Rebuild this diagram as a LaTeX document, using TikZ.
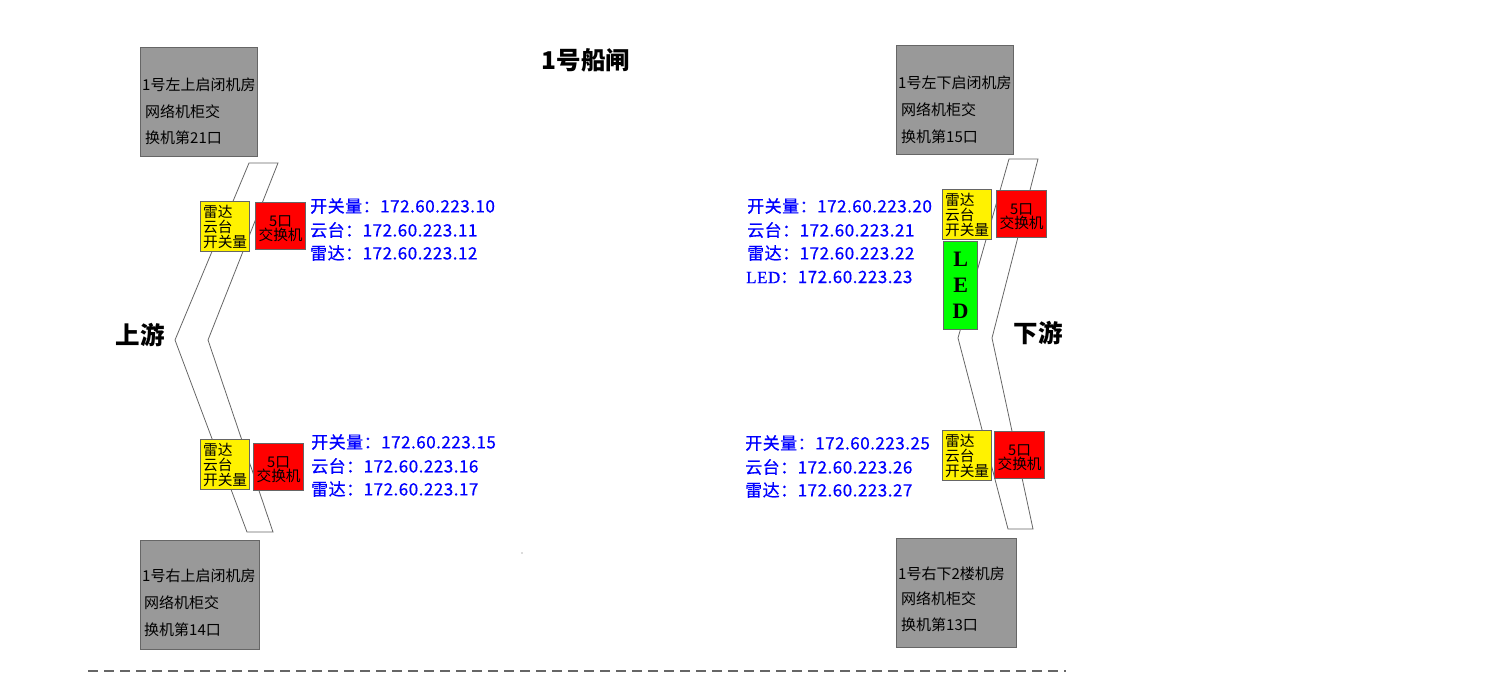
\documentclass[tikz,border=0pt]{standalone}
\usepackage{fontspec}
\setmainfont{Noto Sans CJK SC}
\newfontfamily\serifr{Liberation Serif}
\newfontfamily\ipfont{Noto Sans CJK SC}[LetterSpace=3,FakeBold=0.6]
\newfontfamily\ipserif{Liberation Serif}[LetterSpace=3,FakeBold=0.6]
\definecolor{boxgray}{HTML}{999999}
\definecolor{edgegray}{HTML}{666666}
\definecolor{ipblue}{HTML}{0000FF}
\begin{document}
\begin{tikzpicture}[x=1pt,y=-1pt,
  gateline/.style={draw=edgegray, line width=0.8pt, line join=miter},
  graybox/.style={draw=edgegray, fill=boxgray, line width=1.2pt, inner sep=0pt, anchor=north west},
  graytext/.style={anchor=west, inner sep=0pt, text=black, font=\fontsize{15pt}{17pt}\selectfont},
  ybox/.style={draw=edgegray, fill=yellow, line width=1.2pt, inner sep=0pt, anchor=north west,
    minimum width=49pt, minimum height=50pt, align=left, font=\fontsize{14.7pt}{15pt}\selectfont},
  rbox/.style={draw=edgegray, fill=red, line width=1.2pt, inner sep=0pt, anchor=north west,
    minimum width=50pt, minimum height=47pt},
  rtext/.style={inner sep=0pt, align=center, text=black, font=\fontsize{14.7pt}{14pt}\selectfont},
  ledbox/.style={draw=edgegray, fill=green, line width=1.2pt, inner sep=0pt, anchor=north west,
    minimum width=34pt, minimum height=88pt, align=center, font=\serifr\bfseries\fontsize{22pt}{26pt}\selectfont},
  iptext/.style={anchor=west, inner sep=0pt, text=ipblue, font=\ipfont\fontsize{17pt}{20pt}\selectfont},
  bigtext/.style={inner sep=0pt, text=black, font=\bfseries\fontsize{24.5pt}{28pt}\selectfont},
]
\useasboundingbox (0,0) rectangle (1500,676);

% ---------- gate outlines ----------
\coordinate (L1) at (249,163); \coordinate (L2) at (278,163); \coordinate (L3) at (208,340);
\coordinate (L4) at (273,532); \coordinate (L5) at (247,532); \coordinate (L6) at (175,340);
\draw[gateline] (L1) -- (L2) -- (L3) -- (L4) -- (L5) -- (L6) -- cycle;
\coordinate (R1) at (1009,159); \coordinate (R2) at (1038,159); \coordinate (R3) at (992,338);
\coordinate (R4) at (1033,529); \coordinate (R5) at (1008,529); \coordinate (R6) at (958,338);
\draw[gateline] (R1) -- (R2) -- (R3) -- (R4) -- (R5) -- (R6) -- cycle;

% ---------- title and side labels ----------
\node[bigtext] (title) at (586,60) {1号船闸};
\node[bigtext] (up) at (140,335) {上游};
\node[bigtext] (down) at (1038,333) {下游};

% ---------- gray boxes ----------
\node[graybox, minimum width=117pt, minimum height=109pt] (gTL) at (140,47) {};
\node[graytext] (gTL1) at (142,85) {1号左上启闭机房};
\node[graytext] (gTL2) at (145,112) {网络机柜交};
\node[graytext] (gTL3) at (145,138) {换机第21口};

\node[graybox, minimum width=119pt, minimum height=109pt] (gBL) at (140,540) {};
\node[graytext] (gBL1) at (142,576) {1号右上启闭机房};
\node[graytext] (gBL2) at (144,603) {网络机柜交};
\node[graytext] (gBL3) at (144,630) {换机第14口};

\node[graybox, minimum width=117pt, minimum height=109pt] (gTR) at (896,45) {};
\node[graytext] (gTR1) at (898,83) {1号左下启闭机房};
\node[graytext] (gTR2) at (901,110) {网络机柜交};
\node[graytext] (gTR3) at (901,137) {换机第15口};

\node[graybox, minimum width=120pt, minimum height=109pt] (gBR) at (896,538) {};
\node[graytext] (gBR1) at (898,574) {1号右下2楼机房};
\node[graytext] (gBR2) at (901,599) {网络机柜交};
\node[graytext] (gBR3) at (901,625) {换机第13口};

% ---------- device boxes ----------
\node[ybox] (yTL) at (200,201) {雷达\\云台\\开关量};
\node[rbox] (rTL) at (255,202) {};
\node[rtext] (rTLt) at ([yshift=-3pt]rTL.center) {5口\\交换机};
\node[ybox] (yBL) at (200,439) {雷达\\云台\\开关量};
\node[rbox] (rBL) at (253,443) {};
\node[rtext] (rBLt) at ([yshift=-3pt]rBL.center) {5口\\交换机};
\node[ybox] (yTR) at (942,189) {雷达\\云台\\开关量};
\node[rbox] (rTR) at (996,190) {};
\node[rtext] (rTRt) at ([yshift=-3pt]rTR.center) {5口\\交换机};
\node[ledbox] (led) at (943,241) {L\\E\\D};
\node[ybox] (yBR) at (942,430) {雷达\\云台\\开关量};
\node[rbox] (rBR) at (994,431) {};
\node[rtext] (rBRt) at ([yshift=-3pt]rBR.center) {5口\\交换机};

% ---------- IP texts ----------
\node[iptext] (ipTL1) at (310,206) {开关量：172.60.223.10};
\node[iptext] (ipTL2) at (310,230) {云台：172.60.223.11};
\node[iptext] (ipTL3) at (310,253) {雷达：172.60.223.12};

\node[iptext] (ipBL1) at (311,442) {开关量：172.60.223.15};
\node[iptext] (ipBL2) at (311,466) {云台：172.60.223.16};
\node[iptext] (ipBL3) at (311,489) {雷达：172.60.223.17};

\node[iptext] (ipTR1) at (747,206) {开关量：172.60.223.20};
\node[iptext] (ipTR2) at (747,230) {云台：172.60.223.21};
\node[iptext] (ipTR3) at (747,253) {雷达：172.60.223.22};
\node[iptext] (ipTR4) at (746,277) {{\ipserif LED}：172.60.223.23};

\node[iptext] (ipBR1) at (745,443) {开关量：172.60.223.25};
\node[iptext] (ipBR2) at (745,467) {云台：172.60.223.26};
\node[iptext] (ipBR3) at (745,490) {雷达：172.60.223.27};

% ---------- misc ----------
\fill[edgegray] (522,553) circle (0.7);
\coordinate (dA) at (88,671); \coordinate (dB) at (1066,671);
\draw[edgegray, line width=1.4pt, dash pattern=on 10pt off 6pt] (dA) -- (dB);
\end{tikzpicture}
\end{document}
